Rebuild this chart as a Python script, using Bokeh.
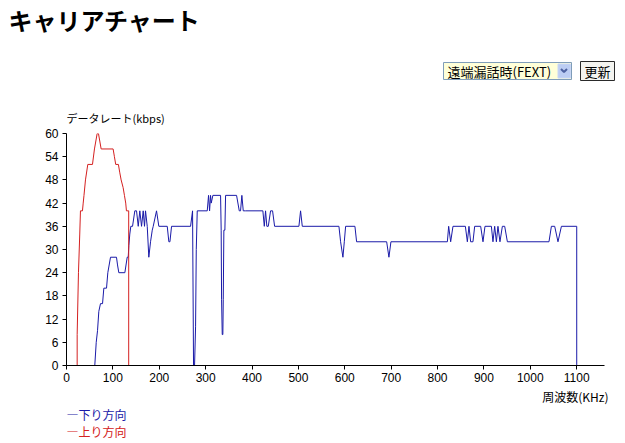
from bokeh.plotting import figure
from bokeh.models import Range1d, FixedTicker, Title
from bokeh.layouts import column
from bokeh.core.properties import value
from bokeh.embed import file_html
from bokeh.resources import INLINE

# ---- data ----
up_khz = [23.0, 23.0, 25.8, 28.6, 30.1, 34.4, 36.0, 37.7, 40.9, 45.9, 56.0, 60.3,
          66.1, 68.9, 74.7, 100.5, 103.3, 106.1, 111.9, 114.7, 117.8, 122.1, 124.9,
          127.7, 129.2, 134.1, 134.1]
up_kbps = [0, 8, 24, 34, 40, 40, 42, 44, 48, 52, 52, 56,
           60, 60, 56, 56, 54, 52, 52, 50, 48, 46, 44,
           42, 40, 40, 0]

down_khz = [61.0, 64.1, 66.9, 69.7, 73.3, 77.7, 80.5, 86.3, 89.1, 94.9,
            107.8, 110.0, 112.8, 125.8, 130.9, 133.1, 134.4, 136.5, 138.7, 142.4,
            147.3, 151.0, 154.7, 158.1, 161.8, 165.4, 168.2, 170.4, 174.1, 177.5,
            181.2, 184.9, 187.0, 194.1, 199.1, 217.2, 220.7, 223.0, 226.5, 267.5,
            271.8, 273.9, 276.1, 278.3, 279.8, 281.9, 303.5, 306.3, 308.5, 310.6,
            312.1, 315.6, 332.2, 333.5, 334.4, 335.8, 337.1, 338.0, 339.3, 341.5,
            343.0, 366.7, 372.5, 375.3, 378.1, 381.1, 386.1, 423.4, 426.5, 429.2,
            432.0, 435.1, 440.0, 444.3, 448.7, 501.1, 504.7, 508.4, 587.4, 591.0,
            596.0, 599.0, 601.8, 621.9, 625.5, 690.3, 695.2, 699.5, 821.2, 824.0,
            828.3, 833.3, 860.0, 864.3, 867.8, 871.4, 876.4, 880.1, 893.0, 898.0,
            902.3, 916.1, 919.5, 923.2, 926.9, 930.3, 934.6, 939.8, 944.8, 950.6,
            1040.3, 1045.5, 1052.6, 1059.7, 1067.1, 1100.1, 1100.1]
down_kbps = [0, 6, 9, 14, 16, 16, 20, 20, 24, 28,
             28, 26, 24, 24, 28, 28, 31, 34, 36, 36,
             40, 40, 36, 40, 36, 40, 36, 40, 36, 28,
             32, 35, 36, 40, 36, 36, 32, 32, 36, 36,
             40, 0, 0, 10, 30, 40, 40, 44, 40, 44,
             42, 44, 44, 35, 17, 8, 8, 17, 35, 35,
             44, 44, 40, 40, 44, 40, 40, 40, 36, 40,
             36, 36, 40, 40, 36, 36, 40, 36, 36, 32,
             28, 32, 36, 36, 32, 32, 28, 32, 32, 36,
             32, 36, 36, 32, 36, 32, 32, 36, 36, 32,
             36, 36, 32, 36, 32, 36, 32, 36, 36, 32,
             32, 36, 36, 32, 36, 36, 0]

x_ticks = [0, 100, 200, 300, 400, 500, 600, 700, 800, 900, 1000, 1100]
y_ticks = [0, 6, 12, 18, 24, 30, 36, 42, 48, 54, 60]

title_text = "キャリアチャート"
y_title = "データレート(kbps)"
x_title = "周波数(KHz)"
select_text = "遠端漏話時(FEXT)"
button_text = "更新"
down_name = "下り方向"
up_name = "上り方向"

BLUE = "#1a1aa8"
RED = "#d42020"
JP = "Noto Sans CJK JP"
W = 620
TOP_H, MAIN_H, BOT_H = 125, 280, 35


def blank(height, y0):
    f = figure(width=W, height=height, output_backend="svg", toolbar_location=None,
               x_range=Range1d(0, W), y_range=Range1d(y0 + height, y0),
               x_axis_type=None, y_axis_type=None, frame_align=False,
               min_border_left=0, min_border_right=0, min_border_top=0,
               min_border_bottom=0)
    f.outline_line_color = None
    f.xgrid.visible = False
    f.ygrid.visible = False
    return f


def txt(f, s, x, y, size, color="black", align="left", bold=False, font=JP):
    f.text(x=[x], y=[y], text=[s], text_font=value(font), text_font_size=value(size),
           text_color=color, text_align=align, text_baseline="middle",
           text_font_style="bold" if bold else "normal")


# ---- top strip: title, select, button, y-axis title ----
top = blank(TOP_H, 0)
txt(top, title_text, 8, 19, "24px", bold=True)
top.quad(left=[443], right=[571], top=[62], bottom=[79], fill_color="#ffffd8",
         line_color="#7f9db9", line_width=1)
top.quad(left=[557.5], right=[570], top=[63.5], bottom=[77.5], fill_color="#bccdf3",
         line_color="#c8d6f4", line_width=1)
top.line(x=[560.5, 563.5, 566.5], y=[68.5, 71.5, 68.5], line_color="#4d61a0",
         line_width=2)
txt(top, select_text, 447, 70.5, "13px")
top.quad(left=[580], right=[614], top=[61], bottom=[80], fill_color="#f4f4f0",
         line_color="#2a2a2a", line_width=1)
txt(top, button_text, 597, 70.5, "13px", align="center")
txt(top, y_title, 66, 117, "11px")

# ---- main chart ----
p = figure(width=W, height=MAIN_H, output_backend="svg", toolbar_location=None,
           x_range=Range1d(0, 1160), y_range=Range1d(0, 60), frame_align=False,
           min_border_left=66, min_border_right=W - 604, min_border_top=133 - TOP_H,
           min_border_bottom=TOP_H + MAIN_H - 373)
p.outline_line_color = None
p.xgrid.visible = False
p.ygrid.visible = False
for ax in (p.xaxis[0], p.yaxis[0]):
    ax.axis_line_color = "black"
    ax.major_tick_line_color = "black"
    ax.major_tick_out = 4
    ax.major_tick_in = 0
    ax.minor_tick_line_color = None
    ax.major_label_text_font = "Liberation Sans"
    ax.major_label_text_font_size = "12px"
    ax.major_label_text_color = "black"
p.xaxis[0].ticker = FixedTicker(ticks=x_ticks)
p.yaxis[0].ticker = FixedTicker(ticks=y_ticks)
p.xaxis[0].major_label_standoff = 3
p.yaxis[0].major_label_standoff = 4

p.add_layout(Title(text=x_title, align="right", offset=-4, standoff=2,
                   text_font=JP, text_font_size="12px", text_font_style="normal",
                   text_color="black"), "below")

p.line(down_khz, down_kbps, line_color=BLUE, line_width=1)
p.line(up_khz, up_kbps, line_color=RED, line_width=1)

# ---- bottom strip: legend ----
bot = blank(BOT_H, TOP_H + MAIN_H)
txt(bot, "―" + down_name, 66, 414, "12px", color=BLUE)
txt(bot, "―" + up_name, 66, 431, "12px", color=RED)

layout = column(top, p, bot, spacing=0)
open("out.html", "w").write(file_html(layout, INLINE))
